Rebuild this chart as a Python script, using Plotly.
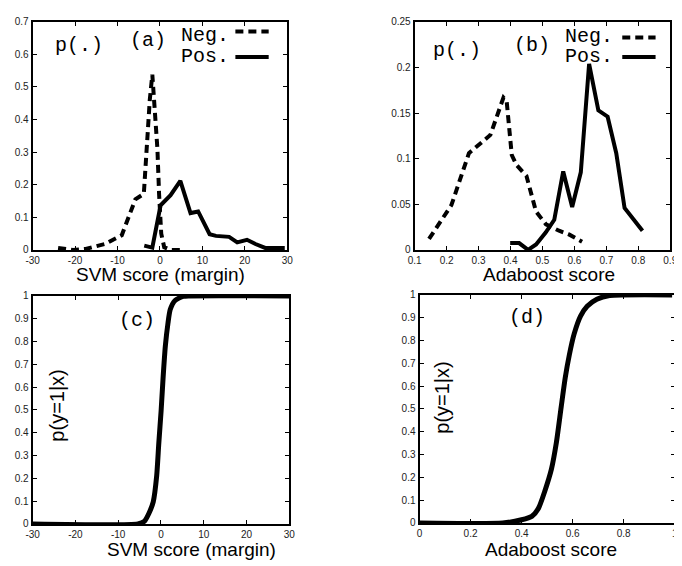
import plotly.graph_objects as go

W, H = 682, 566
# the page body keeps the browser's default 8px margin, so the figure starts at (8, 8)
OX, OY = 8, 8

# ---------------- data ----------------
# (a) SVM score distributions
svm_neg_x = [-24, -20.5, -17.5, -13, -9, -5.8, -3.8, -3.1, -2.4, -1.8, -1.3, -0.6, -0.2, 0.3, 1.0, 2.5, 4.8]
svm_neg_y = [0.006, 0.0, 0.003, 0.018, 0.045, 0.155, 0.172, 0.32, 0.46, 0.538, 0.44, 0.31, 0.17, 0.05, 0.008, 0.0, 0.0]
svm_pos_x = [-3.7, -1.8, 0.15, 2.5, 4.8, 7.2, 9.0, 11.7, 13.2, 16.3, 18.2, 20.5, 22.5, 24.8, 29.4]
svm_pos_y = [0.013, 0.007, 0.137, 0.168, 0.212, 0.113, 0.118, 0.048, 0.043, 0.04, 0.023, 0.031, 0.018, 0.006, 0.006]

# (b) Adaboost score distributions
ada_neg_x = [0.145, 0.215, 0.27, 0.30, 0.337, 0.378, 0.388, 0.404, 0.419, 0.45, 0.48, 0.511, 0.552, 0.583, 0.624]
ada_neg_y = [0.012, 0.049, 0.106, 0.115, 0.126, 0.167, 0.163, 0.104, 0.093, 0.081, 0.042, 0.028, 0.021, 0.017, 0.009]
ada_pos_x = [0.399, 0.427, 0.455, 0.48, 0.51, 0.537, 0.565, 0.593, 0.62, 0.646, 0.675, 0.704, 0.731, 0.757, 0.813]
ada_pos_y = [0.0075, 0.0075, 0.0, 0.006, 0.019, 0.033, 0.086, 0.047, 0.085, 0.204, 0.153, 0.146, 0.106, 0.046, 0.021]

# (c) p(y=1|x) vs SVM score
svm_cal_x = [-30, -5.4, -3.9, -2.8, -1.8, -1.0, -0.5, 0.04, 0.5, 1.03, 1.64, 2.17, 3.3, 5.2, 6.7, 30]
svm_cal_y = [0.0, 0.0, 0.011, 0.047, 0.097, 0.21, 0.354, 0.496, 0.64, 0.78, 0.88, 0.94, 0.98, 0.998, 1.0, 1.0]

# (d) p(y=1|x) vs Adaboost score
ada_cal_x = [0.0, 0.326, 0.40, 0.44, 0.466, 0.49, 0.517, 0.536, 0.555, 0.571, 0.587, 0.606, 0.631, 0.657, 0.695, 0.745, 0.99]
ada_cal_y = [0.0, 0.0, 0.014, 0.029, 0.064, 0.136, 0.236, 0.35, 0.507, 0.636, 0.736, 0.829, 0.907, 0.95, 0.981, 0.997, 1.0]

# tick values / labels
svm_ticks = [-30, -20, -10, 0, 10, 20, 30]
svm_tick_labels = ["-30", "-20", "-10", "0", "10", "20", "30"]
ada_ticks_b = [0.1, 0.2, 0.3, 0.4, 0.5, 0.6, 0.7, 0.8, 0.9]
ada_tick_labels_b = ["0.1", "0.2", "0.3", "0.4", "0.5", "0.6", "0.7", "0.8", "0.9"]
ada_ticks_d = [0, 0.2, 0.4, 0.6, 0.8, 1.0]
ada_tick_labels_d = ["0", "0.2", "0.4", "0.6", "0.8", "1"]
p_ticks_a = [0, 0.1, 0.2, 0.3, 0.4, 0.5, 0.6, 0.7]
p_ticks_b = [0, 0.05, 0.1, 0.15, 0.2, 0.25]
p_ticks_cd = [0, 0.1, 0.2, 0.3, 0.4, 0.5, 0.6, 0.7, 0.8, 0.9, 1.0]

# ---------------- layout helpers (page pixels -> paper fractions) ----------------
def px(x):
    return (x - OX) / W

def py(y):
    return 1 - (y - OY) / H

SANS = "Arial, Liberation Sans, sans-serif"
MONO = "Courier New, Liberation Mono, monospace"
DASH = "8px,5px"

fig = go.Figure()

fig.add_trace(go.Scatter(x=svm_neg_x, y=svm_neg_y, mode="lines", xaxis="x", yaxis="y",
                         line=dict(color="black", width=4, dash=DASH), name="Neg."))
fig.add_trace(go.Scatter(x=svm_pos_x, y=svm_pos_y, mode="lines", xaxis="x", yaxis="y",
                         line=dict(color="black", width=4), name="Pos."))
fig.add_trace(go.Scatter(x=ada_neg_x, y=ada_neg_y, mode="lines", xaxis="x2", yaxis="y2",
                         line=dict(color="black", width=4, dash=DASH), name="Neg."))
fig.add_trace(go.Scatter(x=ada_pos_x, y=ada_pos_y, mode="lines", xaxis="x2", yaxis="y2",
                         line=dict(color="black", width=4), name="Pos."))
fig.add_trace(go.Scatter(x=svm_cal_x, y=svm_cal_y, mode="lines", xaxis="x3", yaxis="y3",
                         line=dict(color="black", width=5, shape="spline", smoothing=0.6)))
fig.add_trace(go.Scatter(x=ada_cal_x, y=ada_cal_y, mode="lines", xaxis="x4", yaxis="y4",
                         line=dict(color="black", width=5, shape="spline", smoothing=0.6)))

def axis(domain, rng, tickvals, ticktext=None, anchor=None):
    d = dict(domain=domain, range=rng, tickmode="array", tickvals=tickvals,
             showline=True, linecolor="black", linewidth=2, mirror="ticks",
             ticks="inside", ticklen=4, tickwidth=1, tickcolor="black",
             showgrid=False, zeroline=False, anchor=anchor,
             tickfont=dict(family=SANS, size=10, color="#222"))
    if ticktext is not None:
        d["ticktext"] = ticktext
    return d

fig.update_layout(
    width=W, height=H, margin=dict(l=0, r=0, t=0, b=0),
    paper_bgcolor="white", plot_bgcolor="white", showlegend=False,
    xaxis=axis([px(26), px(286)], [-30, 30], svm_ticks, svm_tick_labels, "y"),
    yaxis=axis([py(249), py(16)], [0, 0.7], p_ticks_a, None, "x"),
    xaxis2=axis([px(416), px(677)], [0.1, 0.9], ada_ticks_b, ada_tick_labels_b, "y2"),
    yaxis2=axis([py(249), py(16)], [0, 0.25], p_ticks_b, None, "x2"),
    xaxis3=axis([px(26), px(288)], [-30, 30], svm_ticks, svm_tick_labels, "y3"),
    yaxis3=axis([py(529), py(296)], [0, 1], p_ticks_cd, None, "x3"),
    xaxis4=axis([px(421), px(681.5)], [0, 1], ada_ticks_d, ada_tick_labels_d, "y4"),
    yaxis4=axis([py(528), py(295)], [0, 1], p_ticks_cd, None, "x4"),
)

def note(text, x, y, font, size, xanchor="center", angle=0):
    fig.add_annotation(text=text, x=px(x), y=py(y), xref="paper", yref="paper",
                       xanchor=xanchor, yanchor="middle", showarrow=False,
                       textangle=angle, font=dict(family=font, size=size, color="black"))

# panel labels
note("p(.)", 73, 40, MONO, 20)
note("(a)", 144, 35, MONO, 20)
note("Neg.", 175, 30, MONO, 20, "left")
note("Pos.", 175, 51, MONO, 20, "left")
note("p(.)", 459, 45, MONO, 20)
note("(b)", 536, 40, MONO, 20)
note("Neg.", 567, 31, MONO, 20, "left")
note("Pos.", 567, 51, MONO, 20, "left")
note("(c)", 133, 321, MONO, 20)
note("(d)", 531, 318, MONO, 20)

# axis titles
note("SVM score (margin)", 157, 274, SANS, 19)
note("Adaboost score", 553, 274, SANS, 19)
note("SVM score (margin)", 188, 555, SANS, 19)
note("Adaboost score", 555, 555, SANS, 19)
note("p(y=1|x)", 50, 408, SANS, 20, angle=-90)
note("p(y=1|x)", 444, 400, SANS, 20, angle=-90)

# legend keys
def key(x0, x1, y, dash):
    fig.add_shape(type="line", xref="paper", yref="paper",
                  x0=px(x0), x1=px(x1), y0=py(y), y1=py(y),
                  line=dict(color="black", width=4, dash=dash))

key(233, 267, 26, DASH)
key(233, 267, 52, "solid")
key(628, 662, 32, DASH)
key(628, 662, 52, "solid")

fig.write_html("out.html")
